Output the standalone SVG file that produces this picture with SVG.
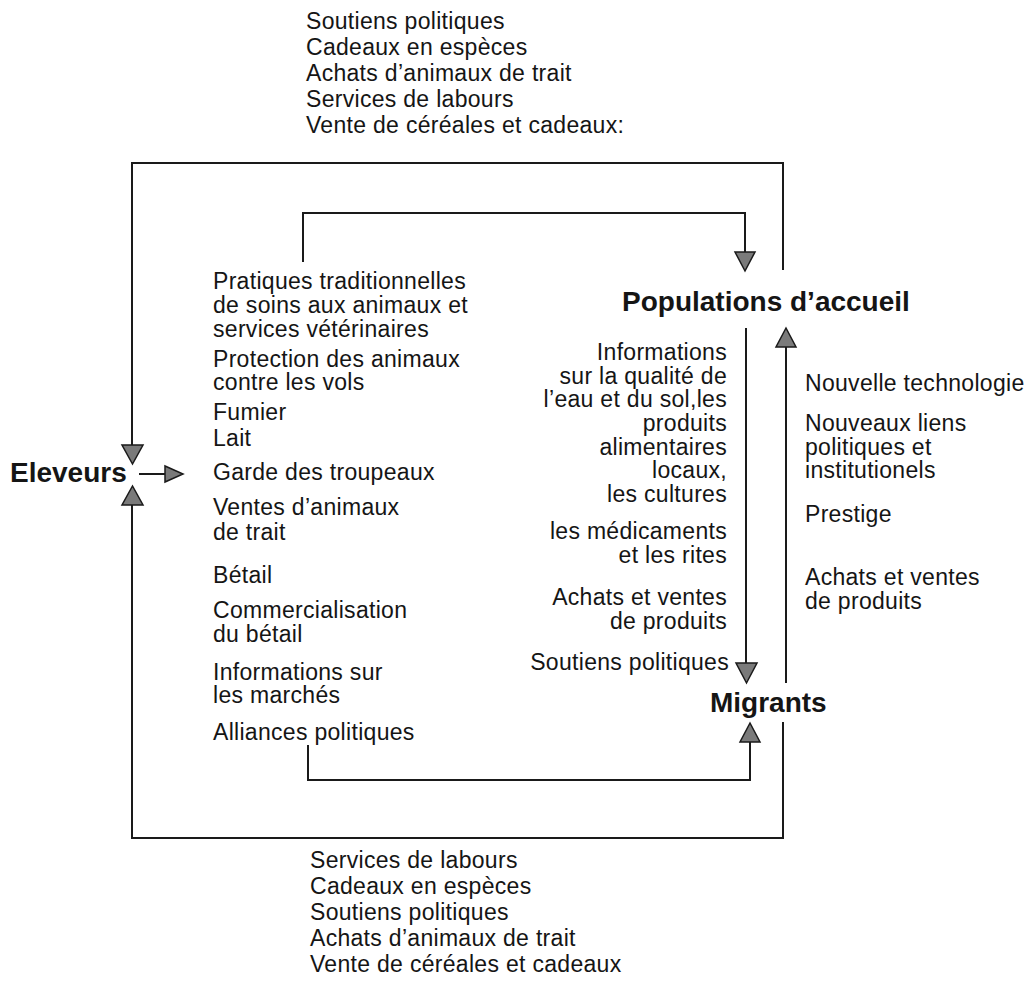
<svg xmlns="http://www.w3.org/2000/svg" width="1026" height="982" viewBox="0 0 1026 982">
<style>
.t{font-family:"Liberation Sans",Arial,sans-serif;font-size:23px;letter-spacing:0.3px;fill:#151515}
.b{font-family:"Liberation Sans",Arial,sans-serif;font-size:28px;font-weight:bold;fill:#151515}
.e{text-anchor:end}
.ln{fill:none;stroke:#1a1a1a;stroke-width:2}
.ah{fill:#7a7a7a;stroke:#1a1a1a;stroke-width:1.5;stroke-linejoin:miter}
</style>
<rect width="1026" height="982" fill="#fff"/>
<g id="connectors">
<path class="ln" d="M783,270 V163 H132 V448"/>
<polygon class="ah" points="122,445 143,445 132.5,464"/>
<path class="ln" d="M132,505 V838 H783 V722"/>
<polygon class="ah" points="122,505 143,505 132.5,486"/>
<path class="ln" d="M139,474 H166"/>
<polygon class="ah" points="165,466 165,482 183,474"/>
<path class="ln" d="M303,262 V213 H745 V254"/>
<polygon class="ah" points="735,252 755,252 745,271"/>
<path class="ln" d="M746,328 V665"/>
<polygon class="ah" points="736,663 757,663 746.5,683"/>
<path class="ln" d="M786,683 V345"/>
<polygon class="ah" points="776,347 796,347 786,328"/>
<path class="ln" d="M308,745 V780 H750 V740"/>
<polygon class="ah" points="740,742 760,742 750,723"/>
</g>
<g id="top-labels" class="t">
<text x="306" y="29">Soutiens politiques</text>
<text x="306" y="55">Cadeaux en espèces</text>
<text x="306" y="81">Achats d’animaux de trait</text>
<text x="306" y="107">Services de labours</text>
<text x="306" y="133">Vente de céréales et cadeaux:</text>
</g>
<g id="node-eleveurs"><text class="b" x="10" y="482">Eleveurs</text></g>
<g id="node-populations"><text class="b" x="622" y="311">Populations d’accueil</text></g>
<g id="node-migrants"><text class="b" x="710" y="712">Migrants</text></g>
<g id="left-labels" class="t">
<text x="213" y="289">Pratiques traditionnelles</text>
<text x="213" y="313">de soins aux animaux et</text>
<text x="213" y="337">services vétérinaires</text>
<text x="213" y="367">Protection des animaux</text>
<text x="213" y="390">contre les vols</text>
<text x="213" y="420">Fumier</text>
<text x="213" y="446">Lait</text>
<text x="213" y="480">Garde des troupeaux</text>
<text x="213" y="515">Ventes d’animaux</text>
<text x="213" y="540">de trait</text>
<text x="213" y="583">Bétail</text>
<text x="213" y="618">Commercialisation</text>
<text x="213" y="642">du bétail</text>
<text x="213" y="680">Informations sur</text>
<text x="213" y="703">les marchés</text>
<text x="213" y="740">Alliances politiques</text>
</g>
<g id="middle-labels" class="t e">
<text x="727" y="360">Informations</text>
<text x="727" y="384">sur la qualité de</text>
<text x="727" y="407">l’eau et du sol,les</text>
<text x="727" y="431">produits</text>
<text x="727" y="455">alimentaires</text>
<text x="727" y="478">locaux,</text>
<text x="727" y="502">les cultures</text>
<text x="727" y="539">les médicaments</text>
<text x="727" y="563">et les rites</text>
<text x="727" y="605">Achats et ventes</text>
<text x="727" y="629">de produits</text>
<text x="729" y="670">Soutiens politiques</text>
</g>
<g id="right-labels" class="t">
<text x="805" y="391">Nouvelle technologie</text>
<text x="805" y="431">Nouveaux liens</text>
<text x="805" y="455">politiques et</text>
<text x="805" y="478">institutionels</text>
<text x="805" y="522">Prestige</text>
<text x="805" y="585">Achats et ventes</text>
<text x="805" y="609">de produits</text>
</g>
<g id="bottom-labels" class="t">
<text x="310" y="868">Services de labours</text>
<text x="310" y="894">Cadeaux en espèces</text>
<text x="310" y="920">Soutiens politiques</text>
<text x="310" y="946">Achats d’animaux de trait</text>
<text x="310" y="972">Vente de céréales et cadeaux</text>
</g>
</svg>
